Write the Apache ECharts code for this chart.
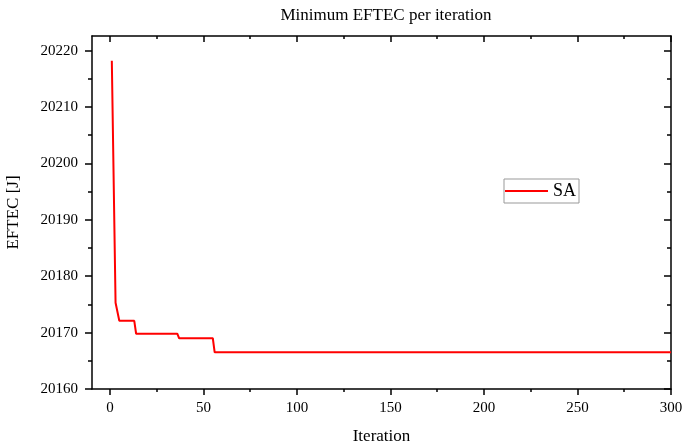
<!DOCTYPE html>
<html>
<head>
<meta charset="utf-8">
<script src="https://cdn.jsdelivr.net/npm/echarts@6/dist/echarts.min.js"></script>
<style>
  html, body { margin: 0; padding: 0; background: #fff; }
  #chart { width: 685px; height: 448px; }
</style>
</head>
<body>
<div id="chart"></div>
<script>
// data
var iterations = [1, 3, 4, 5, 13, 14, 36, 37, 55, 56, 300];
var eftec = [20218.2, 20175.3, 20175.2, 20172.1, 20172.1, 20169.8, 20169.8, 20169.0, 20169.0, 20166.5, 20166.5];
var xTicks = [0, 50, 100, 150, 200, 250, 300];
var xMinor = [25, 75, 125, 175, 225, 275];
var yTicks = [20160, 20170, 20180, 20190, 20200, 20210, 20220];
var yMinor = [20165, 20175, 20185, 20195, 20205, 20215];

var serif = 'Liberation Serif';
var black = '#000';

var points = iterations.map(function (it, i) { return [it, eftec[i]]; });

// one axis = line + ticks, with or without labels
function xAx(pos, ticks, len, inside, showLine, showLabel, name) {
  return {
    type: 'value', position: pos, min: -9.6, max: 300,
    name: name || '', nameLocation: 'middle', nameGap: 39,
    nameTextStyle: { fontFamily: serif, fontSize: 17, color: black },
    axisLine: { show: showLine, onZero: false, lineStyle: { color: black, width: 1.5 } },
    axisTick: { show: true, inside: inside, length: len, customValues: ticks, lineStyle: { color: black, width: 1.5 } },
    axisLabel: { show: showLabel, customValues: ticks, margin: 12, fontFamily: serif, fontSize: 15, color: black,
      formatter: function (v) { return String(v); } },
    splitLine: { show: false }
  };
}
function yAx(pos, ticks, len, inside, showLine, showLabel, name) {
  return {
    type: 'value', position: pos, min: 20160, max: 20222.6,
    name: name || '', nameLocation: 'middle', nameGap: 70,
    nameTextStyle: { fontFamily: serif, fontSize: 17, color: black },
    axisLine: { show: showLine, onZero: false, lineStyle: { color: black, width: 1.5 } },
    axisTick: { show: true, inside: inside, length: len, customValues: ticks, lineStyle: { color: black, width: 1.5 } },
    axisLabel: { show: showLabel, customValues: ticks, margin: 14, fontFamily: serif, fontSize: 15, color: black,
      formatter: function (v) { return String(v); } },
    splitLine: { show: false }
  };
}

var chart = echarts.init(document.getElementById('chart'));
var option = {
  backgroundColor: '#fff',
  animation: false,
  title: {
    text: 'Minimum EFTEC per iteration',
    left: 381, top: 2, textAlign: 'center',
    textStyle: { fontFamily: serif, fontSize: 17, fontWeight: 'normal', color: black }
  },
  legend: {
    data: ['SA'],
    left: 504, top: 179,
    orient: 'vertical',
    icon: 'rect',
    borderColor: '#999', borderWidth: 1,
    padding: [3, 3, 3, 1],
    itemWidth: 43, itemHeight: 2, itemGap: 5,
    textStyle: { fontFamily: serif, fontSize: 18, color: black }
  },
  grid: { left: 92, right: 14, top: 36, bottom: 59, containLabel: false, outerBoundsMode: 'none' },
  xAxis: [
    xAx('bottom', xTicks, 6, false, true, true, 'Iteration'),
    xAx('bottom', xMinor, 3, false, false, false),
    xAx('top', xTicks, 6, true, true, false),
    xAx('top', xMinor, 3, true, false, false)
  ],
  yAxis: [
    yAx('left', yTicks, 7, false, true, true, 'EFTEC [J]'),
    yAx('left', yMinor, 4, false, false, false),
    yAx('right', yTicks, 7, true, true, false),
    yAx('right', yMinor, 4, true, false, false)
  ],
  series: [{
    name: 'SA',
    type: 'line',
    xAxisIndex: 0, yAxisIndex: 0,
    data: points,
    symbol: 'none',
    lineStyle: { color: '#ff0000', width: 2 },
    itemStyle: { color: '#ff0000' }
  }]
};
chart.setOption(option);
</script>
</body>
</html>
